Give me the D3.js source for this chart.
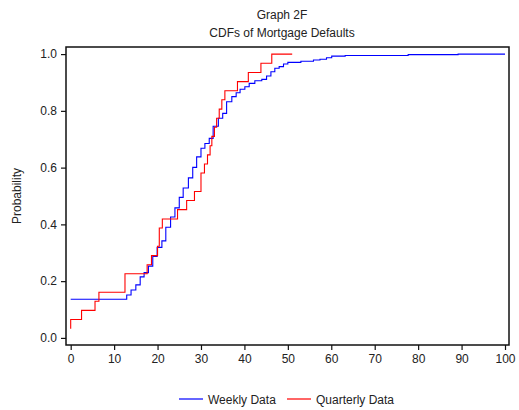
<!DOCTYPE html>
<html>
<head>
<meta charset="utf-8">
<script src="https://cdn.jsdelivr.net/npm/d3@7"></script>
<style>
  body { margin: 0; background: #fff; }
  text { font-family: "Liberation Sans", Arial, sans-serif; fill: #222; }
</style>
</head>
<body>
<div class="chart"></div>
<script>
var w = 519, h = 410;

// weekly empirical CDF (x, probability), last point = end of line
var weeklyX = [0, 12.9, 13.9, 15.0, 16.0, 16.9, 17.9, 18.9, 19.9, 21.0, 21.9, 23.0, 24.0, 25.0, 25.9,
	27.1, 28.1, 29.0, 30.0, 30.9, 31.9, 32.8, 34.0, 35.0, 35.9, 37.1, 38.1, 39.0, 40.1, 41.1,
	42.4, 44.0, 45.1, 46.1, 47.0, 48.0, 49.0, 50.0, 53.0, 55.9, 57.4, 58.9, 60.1, 63.2, 77.7, 89.2, 100];
var weeklyP = [0.136, 0.151, 0.169, 0.187, 0.215, 0.230, 0.253, 0.287, 0.319, 0.342, 0.390, 0.426, 0.458, 0.495, 0.528,
	0.564, 0.601, 0.638, 0.668, 0.685, 0.703, 0.746, 0.774, 0.791, 0.832, 0.850, 0.864, 0.876, 0.885, 0.897,
	0.906, 0.911, 0.923, 0.938, 0.950, 0.956, 0.965, 0.971, 0.975, 0.979, 0.982, 0.987, 0.993, 0.995, 0.998, 1.0, 1.0];

// quarterly empirical CDF
var quarterlyX = [0, 0, 2.5, 5.6, 6.5, 12.5, 17.6, 18.6, 20.0, 20.4, 21.1, 24.6, 26.7, 28.5, 30.0, 30.8,
	31.5, 32.1, 32.5, 33.1, 33.6, 34.2, 34.8, 35.5, 38.4, 40.9, 43.8, 46.3, 51];
var quarterlyP = [0.032, 0.065, 0.097, 0.129, 0.161, 0.226, 0.258, 0.290, 0.323, 0.387, 0.419, 0.452, 0.484, 0.516, 0.581, 0.613,
	0.645, 0.677, 0.710, 0.742, 0.774, 0.806, 0.839, 0.871, 0.903, 0.935, 0.968, 1.0, 1.0];

var xTicks = d3.range(0, 101, 10);
var yTicks = [0, 0.2, 0.4, 0.6, 0.8, 1.0];

var mLeft = 66, mRight = 509, mTop = 47, mBottom = 345;

var x = d3.scaleLinear().domain([-1.08, 100.92]).range([mLeft, mRight]);
var y = d3.scaleLinear().domain([-0.025, 1.025]).range([mBottom, mTop]);

var svg = d3.select('.chart').append('svg')
	.attr('width', w)
	.attr('height', h);

svg.append('text').attr('x', 282).attr('y', 19).attr('text-anchor', 'middle')
	.style('font-size', '12px').text('Graph 2F');
svg.append('text').attr('x', 282).attr('y', 37).attr('text-anchor', 'middle')
	.style('font-size', '12px').text('CDFs of Mortgage Defaults');

var line = d3.line()
	.curve(d3.curveStepAfter)
	.x(function(d) { return x(d[0]); })
	.y(function(d) { return y(d[1]); });

var weekly = d3.zip(weeklyX, weeklyP),
	quarterly = d3.zip(quarterlyX, quarterlyP);

svg.append('path').datum(weekly)
	.attr('fill', 'none').attr('stroke', '#0000ff').attr('stroke-width', 1.1)
	.attr('d', line);
svg.append('path').datum(quarterly)
	.attr('fill', 'none').attr('stroke', '#ff0000').attr('stroke-width', 1.1)
	.attr('d', line);

// frame
svg.append('rect')
	.attr('x', mLeft).attr('y', mTop)
	.attr('width', mRight - mLeft).attr('height', mBottom - mTop)
	.attr('fill', 'none').attr('stroke', '#111').attr('stroke-width', 1.5);

var gx = svg.append('g').attr('transform', 'translate(0,' + mBottom + ')')
	.call(d3.axisBottom(x).tickValues(xTicks).tickSize(5).tickPadding(4).tickSizeOuter(0));
var gy = svg.append('g').attr('transform', 'translate(' + mLeft + ',0)')
	.call(d3.axisLeft(y).tickValues(yTicks).tickFormat(d3.format('.1f')).tickSize(5).tickPadding(4).tickSizeOuter(0));

[gx, gy].forEach(function(g) {
	g.select('.domain').remove();
	g.selectAll('line').attr('stroke', '#111').attr('stroke-width', 1.2);
	g.selectAll('text').style('font-size', '12px').style('font-family', '"Liberation Sans", Arial, sans-serif').attr('fill', '#222');
});

svg.append('text')
	.attr('transform', 'translate(21,' + ((mTop + mBottom) / 2) + ') rotate(-90)')
	.attr('text-anchor', 'middle')
	.style('font-size', '12px')
	.text('Probability');

// legend
var legend = [
	{ name: 'Weekly Data', color: '#0000ff', x: 179 },
	{ name: 'Quarterly Data', color: '#ff0000', x: 287 }
];
var lg = svg.selectAll('.legend').data(legend).enter().append('g')
	.attr('transform', function(d) { return 'translate(' + d.x + ',399)'; });
lg.append('line').attr('x1', 0).attr('x2', 24).attr('y1', 0).attr('y2', 0)
	.attr('stroke', function(d) { return d.color; }).attr('stroke-width', 1.2);
lg.append('text').attr('x', 29).attr('y', 4.5)
	.style('font-size', '12px')
	.text(function(d) { return d.name; });
</script>
</body>
</html>
